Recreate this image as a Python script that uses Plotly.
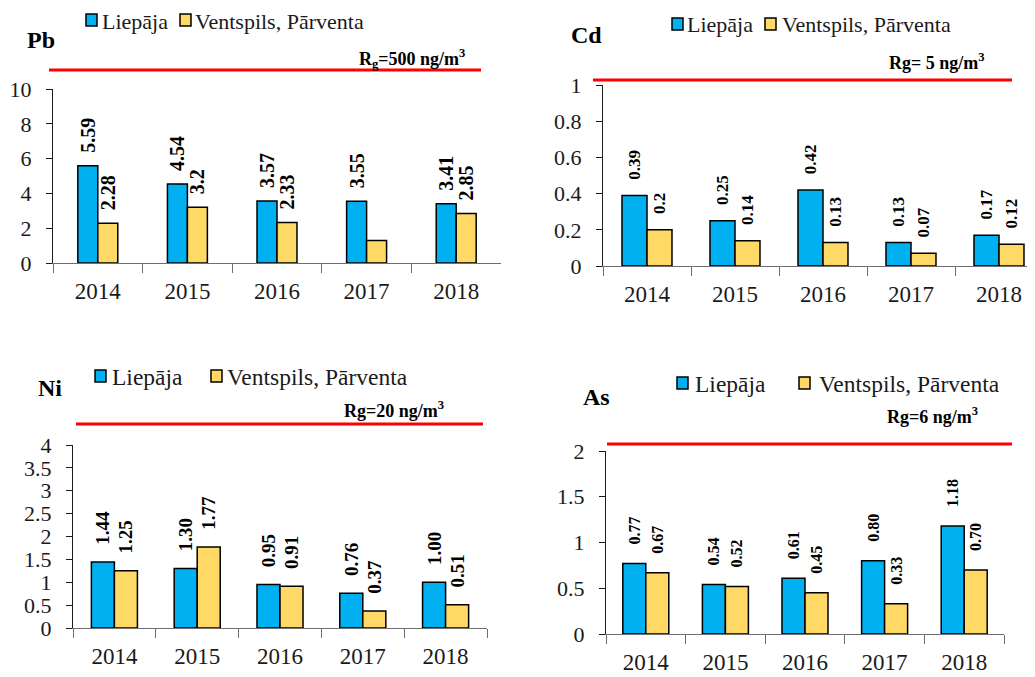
import plotly.graph_objects as go

# Data
years = ["2014", "2015", "2016", "2017", "2018"]

pb_liepaja = [5.59, 4.54, 3.57, 3.55, 3.41]
pb_ventspils = [2.28, 3.2, 2.33, 1.3, 2.85]
pb_liepaja_text = ["5.59", "4.54", "3.57", "3.55", "3.41"]
pb_ventspils_text = ["2.28", "3.2", "2.33", "", "2.85"]

cd_liepaja = [0.39, 0.25, 0.42, 0.13, 0.17]
cd_ventspils = [0.2, 0.14, 0.13, 0.07, 0.12]
cd_liepaja_text = ["0.39", "0.25", "0.42", "0.13", "0.17"]
cd_ventspils_text = ["0.2", "0.14", "0.13", "0.07", "0.12"]

ni_liepaja = [1.44, 1.30, 0.95, 0.76, 1.00]
ni_ventspils = [1.25, 1.77, 0.91, 0.37, 0.51]
ni_liepaja_text = ["1.44", "1.30", "0.95", "0.76", "1.00"]
ni_ventspils_text = ["1.25", "1.77", "0.91", "0.37", "0.51"]

as_liepaja = [0.77, 0.54, 0.61, 0.80, 1.18]
as_ventspils = [0.67, 0.52, 0.45, 0.33, 0.70]
as_liepaja_text = ["0.77", "0.54", "0.61", "0.80", "1.18"]
as_ventspils_text = ["0.67", "0.52", "0.45", "0.33", "0.70"]

series_names = ["Liepāja", "Ventspils, Pārventa"]

W, H = 1035, 677
OFF = 8  # the page body has a default 8px margin
SERIF = "Liberation Serif"
BLUE = "#00B0F0"
YELLOW = "#FFD966"
NBSP = "\u00a0"


def px(x):
    return (x - OFF) / W


def py(y):
    return 1 - (y - OFF) / H


# one dict per small chart (pixel geometry)
panels = [
    dict(title="Pb", rg="R<sub>g</sub>=500 ng/m<sup>3</sup>",
         li=pb_liepaja, ve=pb_ventspils, lt=pb_liepaja_text, vt=pb_ventspils_text,
         ymax=10, dtick=2, xdom=(53, 501), ydom=(89, 263), xmax=4.5, bw=0.223,
         lab=20, pad=2, title_xy=(41, 40), rg_xy=(467, 58, "right"),
         red=(49, 481, 70), leg=(86, 20, 100, 180, 193), fs=22),
    dict(title="Cd", rg="Rg= 5 ng/m<sup>3</sup>",
         li=cd_liepaja, ve=cd_ventspils, lt=cd_liepaja_text, vt=cd_ventspils_text,
         ymax=1, dtick=0.2, xdom=(603, 1043), ydom=(85, 266), xmax=4.5, bw=0.284,
         lab=17, pad=3, title_xy=(586, 35), rg_xy=(937, 61, "center"),
         red=(593, 1012, 80), leg=(672, 24, 685, 765, 780), fs=22),
    dict(title="Ni", rg="Rg=20 ng/m<sup>3</sup>",
         li=ni_liepaja, ve=ni_ventspils, lt=ni_liepaja_text, vt=ni_ventspils_text,
         ymax=4, dtick=0.5, xdom=(73, 487), ydom=(445, 628), xmax=4.5, bw=0.278,
         lab=19, pad=3, title_xy=(50, 388), rg_xy=(394, 409, "center"),
         red=(76, 483, 424), leg=(95, 376, 110, 211, 225), fs=23.5),
    dict(title="As", rg="Rg=6 ng/m<sup>3</sup>",
         li=as_liepaja, ve=as_ventspils, lt=as_liepaja_text, vt=as_ventspils_text,
         ymax=2, dtick=0.5, xdom=(606, 1004), ydom=(451, 634), xmax=4.5, bw=0.289,
         lab=16, pad=4, title_xy=(596, 397), rg_xy=(932, 415, "center"),
         red=(607, 1012, 444), leg=(677, 383, 693, 799, 817), fs=23.5),
]

fig = go.Figure()
shapes = []
annotations = []

for i, p in enumerate(panels):
    n = "" if i == 0 else str(i + 1)
    xa, ya = "x" + n, "y" + n
    w = p["bw"]

    for vals, texts, color, off in [(p["li"], p["lt"], BLUE, -w),
                                    (p["ve"], p["vt"], YELLOW, 0)]:
        fig.add_trace(go.Bar(
            x=years, y=vals,
            text=[NBSP * p["pad"] + t if t else "" for t in texts],
            textposition="outside", textangle=-90,
            textfont=dict(family=SERIF, size=p["lab"], color="black", weight="bold"),
            marker=dict(color=color, line=dict(color="black", width=1.5)),
            width=w, offset=off, cliponaxis=False, constraintext="none",
            showlegend=False, hoverinfo="x+y",
            xaxis=xa, yaxis=ya,
        ))

    fig.update_layout(**{
        "xaxis" + n: dict(
            domain=[px(p["xdom"][0]), px(p["xdom"][1])], anchor=ya,
            type="category", range=[-0.5, p["xmax"]], automargin=False,
            showline=True, linecolor="#6f6f6f", linewidth=1.2,
            ticks="outside", tickson="boundaries", ticklen=9, tickcolor="#6f6f6f",
            tickfont=dict(family=SERIF, size=23, color="#1a1a1a"),
            ticklabelstandoff=7, showgrid=False,
        ),
        "yaxis" + n: dict(
            domain=[py(p["ydom"][1]), py(p["ydom"][0])], anchor=xa,
            range=[0, p["ymax"]], dtick=p["dtick"], automargin=False,
            showline=True, linecolor="#1a1a1a", linewidth=1.2,
            ticks="outside", ticklen=6, tickcolor="#1a1a1a",
            tickfont=dict(family=SERIF, size=22, color="#1a1a1a"),
            ticklabelstandoff=10, showgrid=False, zeroline=False,
        ),
    })

    # red limit line
    x0, x1, yl = p["red"]
    shapes.append(dict(type="line", xref="paper", yref="paper",
                       x0=px(x0), x1=px(x1), y0=py(yl), y1=py(yl),
                       line=dict(color="#FF0000", width=3)))

    # element name
    tx, ty = p["title_xy"]
    annotations.append(dict(text="<b>" + p["title"] + "</b>", xref="paper", yref="paper",
                            x=px(tx), y=py(ty), xanchor="center", yanchor="middle",
                            showarrow=False,
                            font=dict(family=SERIF, size=24, color="black")))

    # limit value label
    rx, ry, anc = p["rg_xy"]
    annotations.append(dict(text="<b>" + p["rg"] + "</b>", xref="paper", yref="paper",
                            x=px(rx), y=py(ry), xanchor=anc, yanchor="middle",
                            showarrow=False,
                            font=dict(family=SERIF, size=18, color="black")))

    # legend drawn by hand so the swatch sits right next to the text
    bx1, by, tx1, bx2, tx2 = p["leg"]
    for bx, txx, color, name in [(bx1, tx1, BLUE, series_names[0]),
                                 (bx2, tx2, YELLOW, series_names[1])]:
        shapes.append(dict(type="rect", xref="paper", yref="paper",
                           x0=px(bx), x1=px(bx + 11), y0=py(by + 6), y1=py(by - 6),
                           fillcolor=color, line=dict(color="black", width=1.5)))
        annotations.append(dict(text=name, xref="paper", yref="paper",
                                x=px(txx), y=py(by + 1), xanchor="left", yanchor="middle",
                                showarrow=False,
                                font=dict(family=SERIF, size=p["fs"], color="#1a1a1a")))

fig.update_layout(
    width=W, height=H,
    margin=dict(l=0, r=0, t=0, b=0, pad=0),
    paper_bgcolor="white", plot_bgcolor="white",
    barmode="overlay",
    shapes=shapes, annotations=annotations,
)

fig.write_html("out.html")
